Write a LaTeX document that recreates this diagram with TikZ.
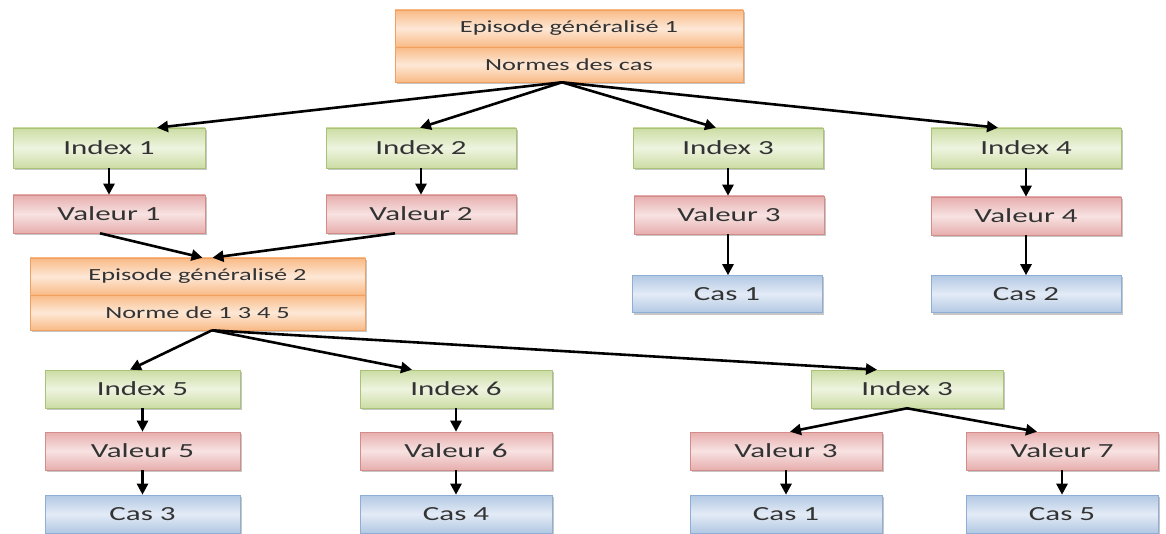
\documentclass[tikz,border=0pt]{standalone}
\usepackage{fontspec}
\setmainfont{Carlito}
\usetikzlibrary{arrows.meta,shadows}

\definecolor{txt}{HTML}{333333}
\definecolor{orEdge}{HTML}{F0A060}
\definecolor{orDark}{HTML}{F9BA86}
\definecolor{orLight}{HTML}{FDE8D6}
\definecolor{grEdge}{HTML}{A9C278}
\definecolor{grDark}{HTML}{CCDDA4}
\definecolor{grLight}{HTML}{EEF4E0}
\definecolor{rdEdge}{HTML}{D48C8A}
\definecolor{rdDark}{HTML}{E6AEAD}
\definecolor{rdLight}{HTML}{F8E2E2}
\definecolor{blEdge}{HTML}{8EAED5}
\definecolor{blDark}{HTML}{B2C8E3}
\definecolor{blLight}{HTML}{E3EBF6}

% horizontally widened text
\newcommand\wide[1]{\scalebox{1.55}[1]{#1}}

\tikzset{
  box/.style={rectangle, inner sep=0pt, minimum width=192pt, minimum height=38pt,
    text=txt, font=\fontsize{20}{22}\selectfont, line width=0.6pt,
    drop shadow={shadow xshift=2pt, shadow yshift=-2pt, opacity=0.45, fill=gray}},
  ep/.style={box, draw=orEdge, top color=orDark, bottom color=orDark, middle color=orLight,
    font=\fontsize{17}{19}\selectfont},
  idx/.style={box, draw=grEdge, top color=grDark, bottom color=grDark, middle color=grLight, minimum height=40pt},
  val/.style={box, draw=rdEdge, top color=rdDark, bottom color=rdDark, middle color=rdLight},
  cas/.style={box, draw=blEdge, top color=blDark, bottom color=blDark, middle color=blLight},
  link/.style={line width=2.6pt, -{Triangle[length=11pt,width=11pt]}},
}

\begin{document}
\begin{tikzpicture}[x=1pt,y=-1pt]
\useasboundingbox (0,0) rectangle (1166,534);

% generalised episode 1
\node[ep, minimum width=348pt, minimum height=37pt] (eg1t) at (569,28.5) {\wide{Episode généralisé 1}};
\node[ep, minimum width=348pt, minimum height=35pt] (eg1b) at (569,64.5) {\wide{Normes des cas}};

% first level
\node[idx] (i1) at (109,148) {\wide{Index 1}};
\node[val] (v1) at (109,214) {\wide{Valeur 1}};
\node[idx, minimum width=190pt] (i2) at (421,148) {\wide{Index 2}};
\node[val, minimum width=190pt] (v2) at (421,214) {\wide{Valeur 2}};
\node[idx, minimum width=190pt] (i3) at (728,148) {\wide{Index 3}};
\node[val, minimum width=190pt] (v3) at (729,215) {\wide{Valeur 3}};
\node[cas, minimum width=190pt, minimum height=37pt] (c1) at (727,294) {\wide{Cas 1}};
\node[idx, minimum width=190pt] (i4) at (1026,148) {\wide{Index 4}};
\node[val, minimum width=190pt] (v4) at (1026,216) {\wide{Valeur 4}};
\node[cas, minimum width=190pt, minimum height=37pt] (c2) at (1026,294) {\wide{Cas 2}};

% generalised episode 2
\node[ep, minimum width=335pt, minimum height=37pt] (eg2t) at (197.5,276.5) {\wide{Episode généralisé 2}};
\node[ep, minimum width=335pt, minimum height=35pt] (eg2b) at (197.5,312.5) {\wide{Norme de 1 3 4 5}};

% second level
\node[idx, minimum width=195pt, minimum height=38pt] (i5) at (142.5,389) {\wide{Index 5}};
\node[val, minimum width=195pt] (v5) at (142.5,451) {\wide{Valeur 5}};
\node[cas, minimum width=195pt] (c3) at (142.5,514) {\wide{Cas 3}};
\node[idx, minimum height=38pt] (i6) at (456,389) {\wide{Index 6}};
\node[val] (v6) at (456,451) {\wide{Valeur 6}};
\node[cas] (c4) at (456,514) {\wide{Cas 4}};
\node[idx, minimum height=38pt] (i3b) at (907,389) {\wide{Index 3}};
\node[val] (v3b) at (786,451) {\wide{Valeur 3}};
\node[cas] (c1b) at (786,514) {\wide{Cas 1}};
\node[val] (v7) at (1062,451) {\wide{Valeur 7}};
\node[cas] (c5) at (1062,514) {\wide{Cas 5}};

% connectors from episode 1
\draw[link] ([xshift=-7pt]eg1b.south) -- ([xshift=48pt]i1.north);
\draw[link] ([xshift=-7pt]eg1b.south) -- ([xshift=-1pt]i2.north);
\draw[link] ([xshift=-7pt]eg1b.south) -- ([xshift=-12pt]i3.north);
\draw[link] ([xshift=-7pt]eg1b.south) -- ([xshift=-28pt]i4.north);

\draw[link] (i1.south) -- (v1.north);
\draw[link] (i2.south) -- (v2.north);
\draw[link] (i3.south) -- (v3.north -| i3.south);
\draw[link] (v3.south -| i3.south) -- (c1.north -| i3.south);
\draw[link] (i4.south) -- (v4.north);
\draw[link] (v4.south) -- (c2.north);

% values merging into episode 2
\draw[link] ([xshift=-9pt]v1.south) -- ([xshift=5pt]eg2t.north);
\draw[link] ([xshift=-26pt]v2.south) -- ([xshift=15pt]eg2t.north);

% connectors from episode 2
\draw[link] ([xshift=14.5pt]eg2b.south) -- ([xshift=-12.5pt]i5.north);
\draw[link] ([xshift=14.5pt]eg2b.south) -- ([xshift=-44pt]i6.north);
\draw[link] ([xshift=14.5pt]eg2b.south) -- ([xshift=-30pt]i3b.north);

\draw[link] (i5.south) -- (v5.north);
\draw[link] (v5.south) -- (c3.north);
\draw[link] (i6.south) -- (v6.north);
\draw[link] (v6.south) -- (c4.north);
\draw[link] (i3b.south) -- ([xshift=4pt]v3b.north);
\draw[link] (i3b.south) -- ([xshift=-25pt]v7.north);
\draw[link] (v3b.south) -- (c1b.north);
\draw[link] (v7.south) -- (c5.north);
\end{tikzpicture}
\end{document}
